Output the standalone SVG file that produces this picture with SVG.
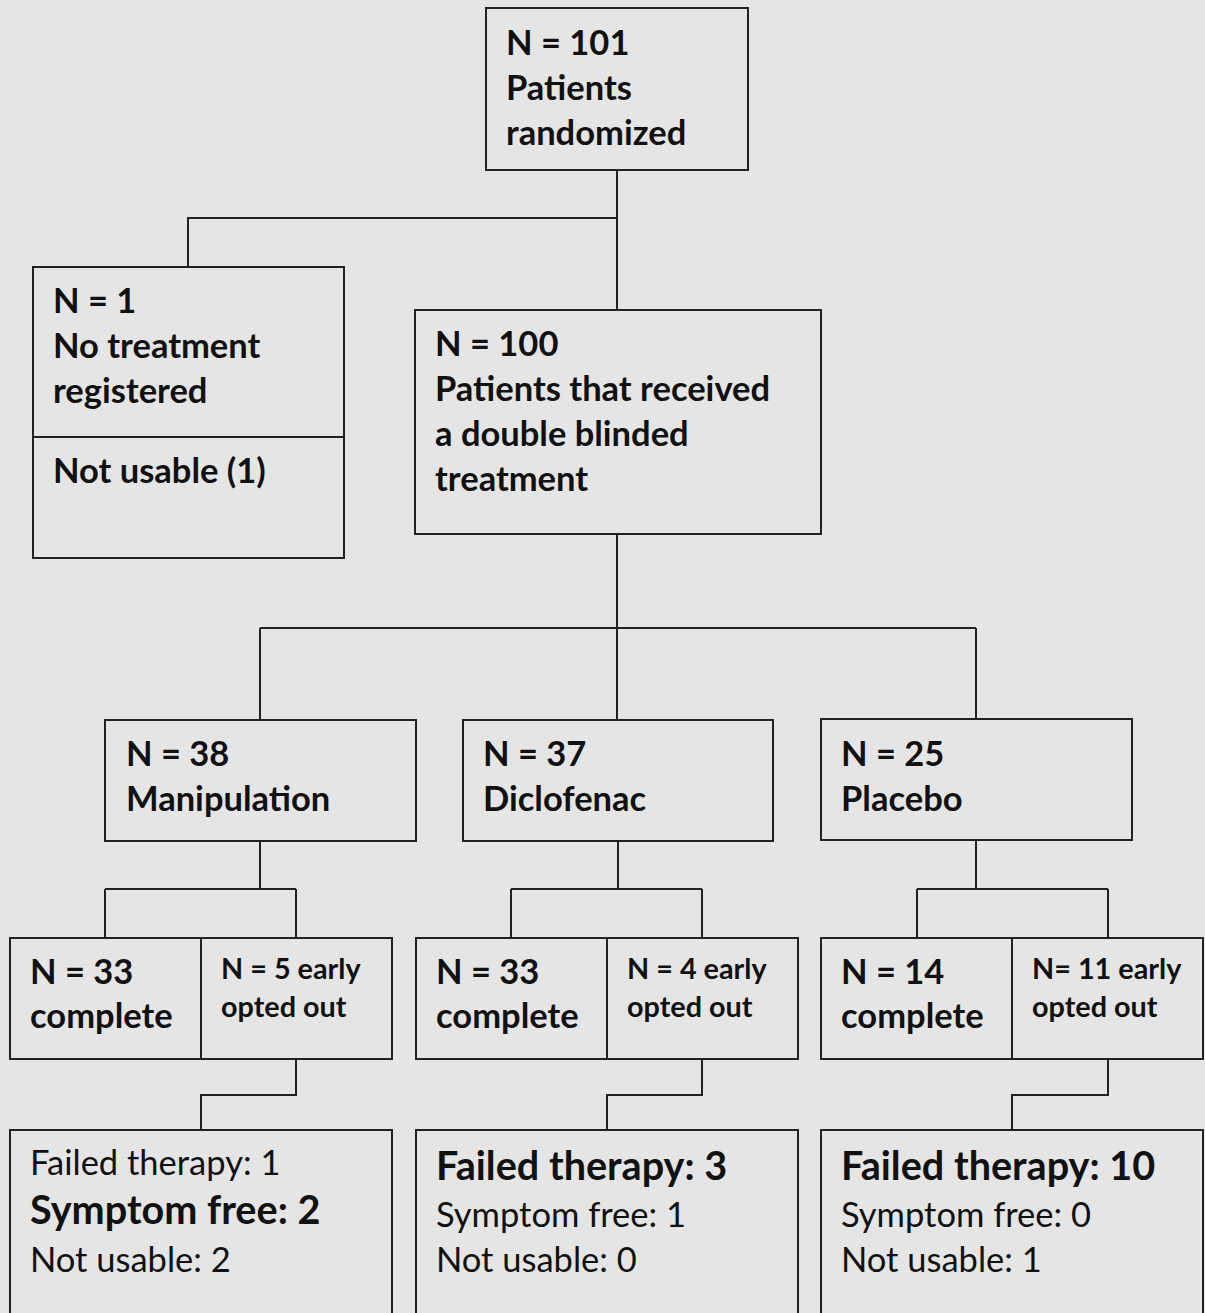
<svg xmlns="http://www.w3.org/2000/svg" width="1205" height="1313" viewBox="0 0 1205 1313">
<style>
.box{fill:none;stroke:#222;stroke-width:2}
.ln{fill:none;stroke:#222;stroke-width:2}
text{font-family:Lato,"Liberation Sans",sans-serif;fill:#111}
.b{font-weight:700;font-size:34.5px}
.s{font-weight:700;font-size:28.8px}
.r{font-weight:400;font-size:34.5px}
.g{font-weight:700;font-size:39.6px}
</style>
<rect width="1205" height="1313" fill="#e5e5e5"/>
<g id="connectors">
<path class="ln" d="M617 170V310M617 218H188V267"/>
<path class="ln" d="M617 534V628M260 628H976M260 628V720M617 628V720M976 628V719"/>
<path class="ln" d="M260 841V889M105 889H296M105 889V938M296 889V938"/>
<path class="ln" d="M618 841V889M511 889H702M511 889V938M702 889V938"/>
<path class="ln" d="M976 840V889M917 889H1108M917 889V938M1108 889V938"/>
<path class="ln" d="M296 1059V1095H201V1130"/>
<path class="ln" d="M702 1059V1095H607V1130"/>
<path class="ln" d="M1108 1059V1095H1012V1130"/>
</g>
<g id="n101">
<rect class="box" x="486" y="8" width="262" height="162"/>
<text class="b" x="506" y="55">N = 101</text>
<text class="b" x="506" y="100">Patients</text>
<text class="b" x="506" y="145">randomized</text>
</g>
<g id="n1">
<rect class="box" x="33" y="267" width="311" height="291"/>
<line class="ln" x1="33" y1="437" x2="344" y2="437"/>
<text class="b" x="53" y="313">N = 1</text>
<text class="b" x="53" y="358">No treatment</text>
<text class="b" x="53" y="403">registered</text>
<text class="b" x="53" y="483">Not usable (1)</text>
</g>
<g id="n100">
<rect class="box" x="415" y="310" width="406" height="224"/>
<text class="b" x="435" y="356">N = 100</text>
<text class="b" x="435" y="401">Patients that received</text>
<text class="b" x="435" y="446">a double blinded</text>
<text class="b" x="435" y="491">treatment</text>
</g>
<g id="manipulation">
<rect class="box" x="105" y="720" width="311" height="121"/>
<text class="b" x="126" y="766">N = 38</text>
<text class="b" x="126" y="811">Manipulation</text>
</g>
<g id="diclofenac">
<rect class="box" x="463" y="720" width="310" height="121"/>
<text class="b" x="483" y="766">N = 37</text>
<text class="b" x="483" y="811">Diclofenac</text>
</g>
<g id="placebo">
<rect class="box" x="821" y="719" width="311" height="121"/>
<text class="b" x="841" y="766">N = 25</text>
<text class="b" x="841" y="811">Placebo</text>
</g>
<g id="manip-split">
<rect class="box" x="10" y="938" width="382" height="121"/>
<line class="ln" x1="201" y1="938" x2="201" y2="1059"/>
<text class="b" x="30" y="984">N = 33</text>
<text class="b" x="30" y="1028">complete</text>
<text class="s" x="221" y="979">N = 5 early</text>
<text class="s" x="221" y="1017">opted out</text>
</g>
<g id="diclo-split">
<rect class="box" x="416" y="938" width="382" height="121"/>
<line class="ln" x1="607" y1="938" x2="607" y2="1059"/>
<text class="b" x="436" y="984">N = 33</text>
<text class="b" x="436" y="1028">complete</text>
<text class="s" x="627" y="979">N = 4 early</text>
<text class="s" x="627" y="1017">opted out</text>
</g>
<g id="placebo-split">
<rect class="box" x="821" y="938" width="382" height="121"/>
<line class="ln" x1="1012" y1="938" x2="1012" y2="1059"/>
<text class="b" x="841" y="984">N = 14</text>
<text class="b" x="841" y="1028">complete</text>
<text class="s" x="1032" y="979">N= 11 early</text>
<text class="s" x="1032" y="1017">opted out</text>
</g>
<g id="manip-outcome">
<rect class="box" x="10" y="1130" width="382" height="200"/>
<text class="r" x="30" y="1175">Failed therapy: 1</text>
<text class="g" x="30" y="1224">Symptom free: 2</text>
<text class="r" x="30" y="1272">Not usable: 2</text>
</g>
<g id="diclo-outcome">
<rect class="box" x="416" y="1130" width="382" height="200"/>
<text class="g" x="436" y="1180">Failed therapy: 3</text>
<text class="r" x="436" y="1227">Symptom free: 1</text>
<text class="r" x="436" y="1272">Not usable: 0</text>
</g>
<g id="placebo-outcome">
<rect class="box" x="821" y="1130" width="382" height="200"/>
<text class="g" x="841" y="1180">Failed therapy: 10</text>
<text class="r" x="841" y="1227">Symptom free: 0</text>
<text class="r" x="841" y="1272">Not usable: 1</text>
</g>
</svg>
